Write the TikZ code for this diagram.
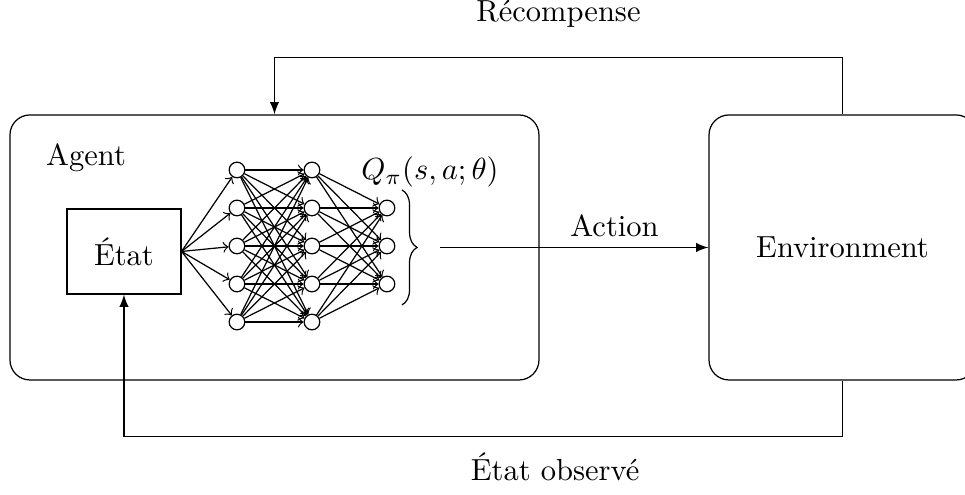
\documentclass[tikz,border=0pt]{standalone}
\usepackage{amsmath}
\usepackage{tikz}
\usetikzlibrary{arrows, positioning, calc, decorations.pathreplacing}

\begin{document}
\begin{tikzpicture}[>=to]

        % --- styles ---
        \tikzstyle{bigbox} = [rectangle, rounded corners=0.23cm, draw=black, minimum height=3.053cm, text centered]
        \tikzstyle{statebox} = [rectangle, draw=black, minimum width=1.313cm, minimum height=0.979cm]
        \tikzstyle{neuron} = [circle, draw=black, fill=white, minimum size=0.18cm, inner sep=0pt]
        \tikzstyle{link} = [->, thin]
        \tikzstyle{arrow} = [-latex]

        \useasboundingbox (0,0) rectangle (11.117,5.702);

        % --- nodes ---

        % 1. Agent and environment
        \node (agent) [bigbox, minimum width=6.094cm] at (3.162,2.851) {};
        \node (env) [bigbox, minimum width=3.076cm] at (9.706,2.851) {Environment};
        \node [below right=0.21cm and 0.3cm of agent.north west] (agent_label) {Agent};

        % 2. State
        \node (etat) [statebox] at (1.428,2.805) {État};

        % 3. Network
        \foreach \i in {1,...,5} {
            \node (h1-\i) [neuron] at (2.730, {4.182-0.438*\i}) {};
            \node (h2-\i) [neuron] at (3.594, {4.182-0.438*\i}) {};
        }
        \foreach \j in {1,...,3}
            \node (out-\j) [neuron] at (4.458, {3.744-0.438*\j}) {};

        % 4. Q-values
        \draw[decorate, decoration={brace, amplitude=5pt}] (4.63,3.514) -- (4.63,2.189);
        \node (qlabel) at (4.954,3.72) {$Q_\pi(s,a;\theta)$};
        \coordinate (qout) at (5.069,2.851);

        % --- links ---
        \foreach \i in {1,...,5}
            \draw[link] (etat.east) -- (h1-\i);
        \foreach \i in {1,...,5}
            \foreach \j in {1,...,5}
                \draw[link] (h1-\i) -- (h2-\j);
        \foreach \i in {1,...,5}
            \foreach \j in {1,...,3}
                \draw[link] (h2-\i) -- (out-\j);

        % --- loop ---
        \draw[arrow] (qout) -- node[above, pos=0.65] {Action} (env);
        \draw[arrow] (env.north) -- ++(0,0.656) -| node[above=0.22cm, pos=0.25] {Récompense} (agent.north);
        \draw[arrow] (env.south) -- ++(0,-0.645) -| node[below=0.06cm, pos=0.2] {État observé} (etat.south);

\end{tikzpicture}
\end{document}
